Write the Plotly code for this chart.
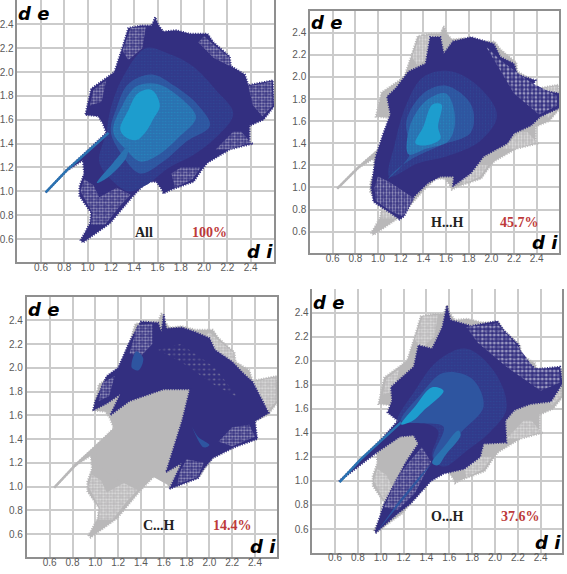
import plotly.graph_objects as go

W, H = 567, 574
TICKS = [0.6, 0.8, 1.0, 1.2, 1.4, 1.6, 1.8, 2.0, 2.2, 2.4]
PANEL_NAMES = ["All", "H...H", "C...H", "O...H"]
PANEL_PCTS = ["100%", "45.7%", "14.4%", "37.6%"]

# Outline of all points of the fingerprint (di, de)
silhouette = [(0.64,0.99),(0.82,1.18),(1.02,1.36),(1.16,1.49),(1.13,1.57),(1.09,1.63),(0.98,1.64),(1.0,1.74),(1.03,1.86),(1.16,1.95),(1.23,2.0),(1.29,2.18),(1.35,2.37),(1.46,2.39),(1.55,2.39),(1.58,2.46),(1.61,2.39),(1.65,2.34),(1.76,2.35),(1.88,2.32),(2.03,2.32),(2.08,2.25),(2.22,2.13),(2.23,2.05),(2.35,1.98),(2.38,1.89),(2.59,1.93),(2.60,1.71),(2.51,1.60),(2.39,1.55),(2.39,1.40),(2.42,1.40),(2.22,1.35),(2.03,1.24),(1.98,1.18),(1.91,1.08),(1.71,1.01),(1.65,0.98),(1.64,1.01),(1.59,1.08),(1.51,1.08),(1.39,0.96),(1.31,0.87),(1.19,0.73),(0.96,0.57),(0.94,0.59),(1.02,0.73),(1.03,0.82),(0.93,0.96),(0.93,1.04),(0.97,1.15),(0.96,1.26),(0.82,1.17),(0.64,0.99)]
spike_tail = [(0.64,0.99),(0.82,1.175),(1.02,1.35),(1.18,1.49)]

# Sparse (speckled) zones
sparse_topleft = [(1.3,2.18),(1.37,2.37),(1.5,2.38),(1.47,2.2),(1.35,2.1)]
sparse_lobe = [(1.02,1.72),(1.05,1.85),(1.16,1.93),(1.12,1.75)]
sparse_right = [(2.38,1.88),(2.58,1.92),(2.59,1.72),(2.5,1.63),(2.42,1.72)]
sparse_lowright = [(2.1,1.35),(2.25,1.5),(2.32,1.5),(2.4,1.41),(2.22,1.35)]
sparse_bottom = [(1.75,1.03),(1.9,1.1),(1.97,1.2),(1.8,1.2),(1.72,1.15)]
sparse_botleft = [(0.94,1.0),(0.97,1.1),(1.05,1.05),(1.1,0.95),(1.25,1.03),(1.37,0.97),(1.28,0.88),(1.15,0.72),(1.03,0.72),(1.04,0.82)]
sparse_topright = [(2.0,2.3),(2.08,2.23),(2.22,2.12),(2.22,2.05),(2.08,2.12),(1.95,2.25)]

# Panel All: density levels
all_l1 = [(1.16,1.49),(1.2,1.7),(1.3,1.95),(1.5,2.2),(1.7,2.15),(1.9,2.05),(2.1,1.85),(2.25,1.65),(2.1,1.45),(1.9,1.3),(1.7,1.2),(1.5,1.05),(1.35,1.0),(1.2,1.1),(1.1,1.25)]
all_l2 = [(1.2,1.5),(1.25,1.7),(1.35,1.9),(1.55,1.98),(1.75,1.88),(1.95,1.72),(2.05,1.55),(1.85,1.42),(1.65,1.25),(1.45,1.15),(1.3,1.3)]
all_l3 = [(1.22,1.5),(1.3,1.72),(1.42,1.88),(1.6,1.9),(1.8,1.78),(1.93,1.62),(1.78,1.45),(1.6,1.3),(1.45,1.25),(1.33,1.35)]
all_l4 = [(1.28,1.52),(1.35,1.68),(1.43,1.82),(1.55,1.85),(1.62,1.72),(1.56,1.6),(1.5,1.5),(1.42,1.43),(1.33,1.45)]
all_streak = [(1.08,1.07),(1.22,1.24),(1.35,1.38),(1.33,1.28),(1.15,1.1)]

# Panel H...H
hh_outline = [(0.94,1.0),(0.96,1.13),(0.98,1.28),(1.05,1.5),(1.11,1.66),(1.08,1.82),(1.16,1.9),(1.27,2.05),(1.42,2.12),(1.46,2.36),(1.55,2.36),(1.58,2.21),(1.66,2.32),(1.82,2.36),(2.02,2.3),(2.08,2.18),(2.2,2.12),(2.23,2.02),(2.39,1.97),(2.35,1.9),(2.6,1.85),(2.6,1.72),(2.43,1.64),(2.35,1.56),(2.2,1.49),(2.14,1.4),(1.93,1.28),(1.82,1.13),(1.66,1.01),(1.67,1.1),(1.55,1.1),(1.44,1.04),(1.32,0.92),(1.23,0.74),(1.19,0.71),(1.11,0.77),(0.96,0.87)]
hh_sparse_low = [(0.97,1.0),(1.0,1.1),(1.1,1.05),(1.2,0.98),(1.32,0.9),(1.22,0.74),(1.12,0.78),(0.98,0.88)]
hh_sparse_up = [(1.95,2.28),(2.08,2.15),(2.35,1.95),(2.58,1.83),(2.58,1.74),(2.42,1.66),(2.2,1.85)]
hh_l1 = [(1.1,1.1),(1.15,1.4),(1.25,1.75),(1.4,2.0),(1.65,2.05),(1.9,1.9),(2.05,1.65),(1.9,1.42),(1.6,1.28),(1.35,1.22)]
hh_l2 = [(1.08,1.07),(1.28,1.3),(1.25,1.6),(1.4,1.85),(1.6,1.92),(1.82,1.75),(1.82,1.5),(1.55,1.38),(1.3,1.26),(1.15,1.15)]
hh_l3 = [(1.27,1.3),(1.28,1.55),(1.42,1.78),(1.6,1.85),(1.68,1.62),(1.62,1.42),(1.42,1.35)]
hh_l4 = [(1.33,1.4),(1.4,1.55),(1.48,1.75),(1.56,1.75),(1.53,1.55),(1.55,1.44),(1.42,1.38)]

# Panel C...H
ch_outline = [(0.98,1.64),(1.0,1.72),(1.1,1.93),(1.2,2.0),(1.3,2.22),(1.4,2.39),(1.55,2.38),(1.58,2.3),(1.6,2.45),(1.62,2.33),(1.76,2.34),(1.88,2.3),(2.0,2.25),(2.05,2.15),(2.2,2.05),(2.3,1.95),(2.38,1.88),(2.45,1.75),(2.52,1.62),(2.4,1.55),(2.42,1.4),(2.22,1.33),(2.03,1.24),(1.95,1.15),(1.9,1.07),(1.65,0.98),(1.76,1.2),(1.62,1.12),(1.76,1.55),(1.83,1.82),(1.6,1.82),(1.3,1.72),(1.13,1.6),(1.22,1.78),(1.1,1.7)]
ch_sparse_a = [(1.3,2.12),(1.37,2.36),(1.5,2.37),(1.5,2.2),(1.4,2.1)]
ch_sparse_b = [(1.03,1.72),(1.06,1.87),(1.17,1.93),(1.12,1.76)]
ch_sparse_c = [(2.08,1.38),(2.2,1.5),(2.35,1.52),(2.4,1.42),(2.2,1.34)]
ch_sparse_d = [(1.72,1.02),(1.9,1.08),(1.95,1.2),(1.8,1.23),(1.74,1.12)]
ch_sparse_e = [(1.55,2.15),(1.75,2.2),(2.05,2.0),(2.25,1.75),(2.05,1.85),(1.75,2.05)]
ch_gray_core = [(1.13,1.6),(1.3,1.72),(1.6,1.82),(1.82,1.82),(1.75,1.55),(1.61,1.12),(1.72,1.17),(1.64,1.01),(1.51,1.08),(1.36,1.0),(1.2,1.05),(1.0,1.2),(1.02,1.36),(1.16,1.49)]
ch_spots = [(1.9,1.42),(2.0,1.35),(1.95,1.33),(1.85,1.5)]
ch_spots2 = [(1.32,2.0),(1.38,1.98),(1.42,2.08),(1.36,2.14)]

# Panel O...H
oh_outline = [(0.635,0.995),(1.0,1.34),(1.15,1.5),(1.06,1.57),(1.1,1.67),(1.09,1.78),(1.16,1.84),(1.29,1.95),(1.33,2.13),(1.45,2.1),(1.54,2.28),(1.58,2.46),(1.61,2.34),(1.79,2.29),(2.02,2.33),(2.08,2.25),(2.21,2.13),(2.22,2.04),(2.36,1.93),(2.57,1.95),(2.59,1.81),(2.49,1.66),(2.31,1.64),(2.17,1.59),(2.09,1.5),(2.1,1.32),(1.9,1.31),(1.87,1.2),(1.73,1.1),(1.55,1.06),(1.44,1.0),(1.26,0.81),(1.15,0.73),(0.96,0.57),(0.95,0.58),(1.03,0.81),(1.15,1.03),(1.23,1.17),(1.33,1.31),(1.29,1.38),(1.17,1.37),(0.97,1.24)]
oh_sparse_low = [(1.03,0.78),(1.14,1.02),(1.24,1.15),(1.36,1.28),(1.44,1.16),(1.38,1.05),(1.3,0.9),(1.15,0.76)]
oh_sparse_up = [(1.75,2.28),(2.02,2.31),(2.2,2.12),(2.34,1.94),(2.56,1.93),(2.57,1.82),(2.4,1.75),(2.1,1.95),(1.85,2.15)]
oh_l1 = [(1.15,1.5),(1.3,1.75),(1.5,2.0),(1.75,2.1),(2.0,1.9),(2.1,1.6),(1.95,1.4),(1.75,1.25),(1.55,1.12),(1.45,1.2),(1.5,1.42),(1.3,1.5)]
oh_l2 = [(1.18,1.5),(1.35,1.72),(1.55,1.9),(1.8,1.85),(1.9,1.62),(1.7,1.4),(1.5,1.15),(1.46,1.2),(1.55,1.45),(1.35,1.48)]
oh_l3 = [(1.18,1.47),(1.3,1.62),(1.45,1.78),(1.55,1.75),(1.37,1.58),(1.28,1.5)]
oh_l4 = [(1.45,1.15),(1.55,1.28),(1.68,1.42),(1.7,1.38),(1.57,1.22),(1.5,1.13)]
oh_branch = [(0.97,0.58),(1.15,0.82),(1.35,1.05),(1.45,1.15),(1.33,1.0),(1.12,0.75)]

NAVY, C1, C2, C3, C4 = "#332f80", "#313a8b", "#2e55a0", "#2a72b1", "#1d9dce"
GRAY = "#b9b8b9"
CLEAR = "rgba(0,0,0,0)"

# left, right, top, bottom in window pixels; px of di=0.6 and 2.4; px of de=2.4 and 0.6
panels = [
    dict(l=17.3, r=274.3, t=0, b=262.3, x06=41, x24=250.7, y24=24.3, y06=239, lx=1.48, tx=2.05, ly=0.657, top=False),
    dict(l=310, r=559.3, t=11.3, b=253.3, x06=332.7, x24=536.7, y24=32.7, y06=231.7, lx=1.61, tx=2.25, ly=0.68, top=True),
    dict(l=26.7, r=277.3, t=297, b=557, x06=49.7, x24=255, y24=320.3, y06=534, lx=1.56, tx=2.2, ly=0.675, top=True),
    dict(l=312.3, r=562.3, t=289, b=552.7, x06=335, x24=540.7, y24=312.7, y06=529, lx=1.58, tx=2.22, ly=0.705, top=False),
]

fig = go.Figure()

def axes(i):
    suffix = "" if i == 0 else str(i + 1)
    return dict(xaxis="x" + suffix, yaxis="y" + suffix, hoverinfo="skip", showlegend=False)

def add_poly(i, pts, color, spline=False, dots=None, dot_size=4, solidity=0.3, fuzzy=False, bg=None):
    xs = [p[0] for p in pts] + [pts[0][0]]
    ys = [p[1] for p in pts] + [pts[0][1]]
    kw = dict(fillcolor=bg or color)
    if dots:
        kw["fillpattern"] = dict(shape=".", bgcolor=bg or color, fgcolor=dots, size=dot_size, solidity=solidity)
    line = dict(width=0, color=color, shape="spline" if spline else "linear")
    if fuzzy:
        line.update(width=2, dash="1px,1.5px")
    fig.add_trace(go.Scatter(x=xs, y=ys, mode="lines", fill="toself", line=line, **axes(i), **kw))

def add_spike(i, color):
    fig.add_trace(go.Scatter(x=[p[0] for p in spike_tail], y=[p[1] for p in spike_tail], mode="lines",
                             line=dict(width=2.5, color=color), **axes(i)))

def speckle(i, pts, color, size=3):
    # white specks broken up by a second, coarser screen of the base colour
    add_poly(i, pts, color, dots="white", dot_size=size, solidity=0.45)
    add_poly(i, pts, color, dots=color, dot_size=size * 2 + 1, solidity=0.3, bg=CLEAR)

def levels(i, polys, colors):
    for j, (pts, col) in enumerate(zip(polys, colors)):
        nxt = colors[j + 1] if j + 1 < len(colors) else None
        add_poly(i, pts, col, spline=True, dots=nxt, dot_size=3, solidity=0.2)
        if nxt:
            add_poly(i, pts, col, spline=True, dots=col, dot_size=7, solidity=0.4, bg=CLEAR)

# Panel 1: All
add_poly(0, silhouette, NAVY, fuzzy=True)
for s in (sparse_topleft, sparse_lobe, sparse_right, sparse_lowright, sparse_bottom, sparse_botleft, sparse_topright):
    speckle(0, s, NAVY)
levels(0, [all_l1, all_l2, all_l3, all_l4], [C1, C2, C3, C4])
add_poly(0, all_streak, C3, spline=True)
add_spike(0, C3)

# Panel 2: H...H
add_poly(1, silhouette, GRAY, fuzzy=True)
add_spike(1, GRAY)
for s in (sparse_topleft, sparse_right, sparse_lowright, sparse_bottom, sparse_botleft):
    speckle(1, s, GRAY)
add_poly(1, hh_outline, NAVY, fuzzy=True)
speckle(1, hh_sparse_low, NAVY)
speckle(1, hh_sparse_up, NAVY, size=4)
levels(1, [hh_l1, hh_l2, hh_l3, hh_l4], [C1, C2, C3, C4])

# Panel 3: C...H
add_poly(2, silhouette, GRAY, fuzzy=True)
add_spike(2, GRAY)
for s in (sparse_right, sparse_topright, sparse_botleft):
    speckle(2, s, GRAY)
add_poly(2, ch_gray_core, GRAY)
add_poly(2, ch_outline, NAVY, fuzzy=True)
for s in (ch_sparse_a, ch_sparse_b, ch_sparse_c, ch_sparse_d):
    speckle(2, s, NAVY)
add_poly(2, ch_sparse_e, NAVY, dots=GRAY, dot_size=5, solidity=0.15)
add_poly(2, ch_sparse_e, NAVY, dots=NAVY, dot_size=11, solidity=0.4, bg=CLEAR)
add_poly(2, ch_spots, C2, spline=True)
add_poly(2, ch_spots2, C2, spline=True)

# Panel 4: O...H
add_poly(3, silhouette, GRAY, fuzzy=True)
for s in (sparse_topleft, sparse_lobe, sparse_right, sparse_lowright, sparse_bottom, sparse_botleft):
    speckle(3, s, GRAY)
add_poly(3, oh_outline, NAVY, fuzzy=True)
speckle(3, oh_sparse_low, NAVY)
speckle(3, oh_sparse_up, NAVY, size=4)
levels(3, [oh_l1, oh_l2], [C1, C2])
add_spike(3, C3)
add_poly(3, oh_branch, C2)
add_poly(3, oh_l3, C4, spline=True)
add_poly(3, oh_l4, C3, spline=True)

layout = dict(width=W, height=H, margin=dict(l=0, r=0, t=0, b=0), autosize=False,
              paper_bgcolor="white", plot_bgcolor="white", showlegend=False)
annotations = []
for i, p in enumerate(panels):
    sx = (p["x24"] - p["x06"]) / 1.8
    sy = (p["y06"] - p["y24"]) / 1.8
    xr = [0.6 + (p["l"] - p["x06"]) / sx, 0.6 + (p["r"] - p["x06"]) / sx]
    yr = [0.6 - (p["b"] - p["y06"]) / sy, 2.4 + (p["y24"] - p["t"]) / sy]
    suffix = "" if i == 0 else str(i + 1)
    common = dict(tickmode="array", tickvals=TICKS, ticktext=[f"{v:.1f}" for v in TICKS],
                  showgrid=True, gridcolor="#cbcbcb", gridwidth=1.5, zeroline=False,
                  showline=True, linecolor="#8f8f8f", linewidth=1.5,
                  ticks="", tickfont=dict(family="Liberation Sans", size=10, color="#5a5a5a"))
    layout["xaxis" + suffix] = dict(domain=[p["l"] / W, p["r"] / W], range=xr, anchor="y" + suffix,
                                    mirror=p["top"], ticklabelstandoff=-5, **common)
    layout["yaxis" + suffix] = dict(domain=[1 - p["b"] / H, 1 - p["t"] / H], range=yr, anchor="x" + suffix,
                                    mirror=True, **common)
    xref, yref = "x" + suffix, "y" + suffix
    annotations += [
        dict(x=p["lx"], y=p["ly"], xref=xref, yref=yref, text="<b>" + PANEL_NAMES[i] + "</b>", showarrow=False,
             font=dict(family="Liberation Serif", size=14, color="#222222")),
        dict(x=p["tx"], y=p["ly"], xref=xref, yref=yref, text="<b>" + PANEL_PCTS[i] + "</b>", showarrow=False,
             font=dict(family="Liberation Serif", size=14, color="#bd3a3a")),
        dict(x=p["l"] / W, y=1 - (p["y24"] - 22) / H, xref="paper", yref="paper", xanchor="left", yanchor="top",
             text="<b><i>d&nbsp;e</i></b>", showarrow=False, borderpad=0,
             font=dict(family="DejaVu Sans", size=18, color="black")),
        dict(x=p["r"] / W, y=1 - (p["b"] + 1) / H, xref="paper", yref="paper", xanchor="right", yanchor="bottom",
             text="<b><i>d&nbsp;i</i></b>", showarrow=False, borderpad=0,
             font=dict(family="DejaVu Sans", size=18, color="black")),
    ]
layout["annotations"] = annotations
fig.update_layout(**layout)
fig.write_html("out.html", post_script="document.body.style.margin='0';", config={"displayModeBar": False})
